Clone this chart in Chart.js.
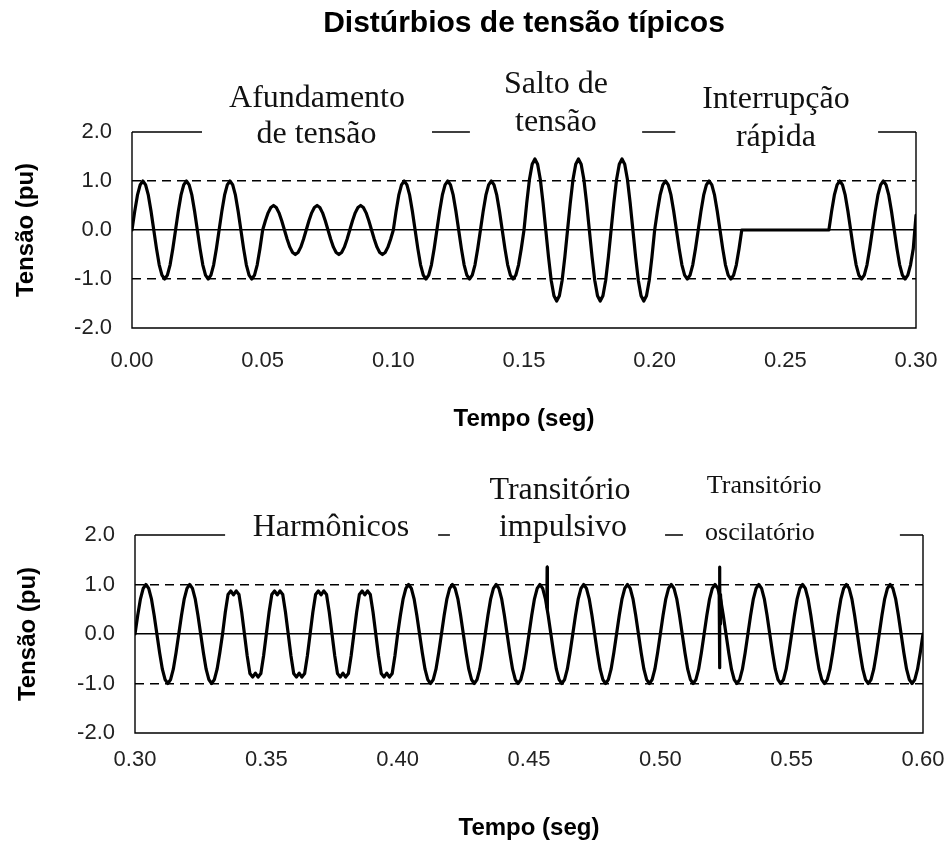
<!DOCTYPE html>
<html><head><meta charset="utf-8">
<script src="https://cdn.jsdelivr.net/npm/chart.js@4.4.1/dist/chart.umd.min.js"></script>
<style>
html,body{margin:0;padding:0;background:#fff;}
#wrap{position:relative;width:949px;height:843px;background:#fff;}
#c1{position:absolute;left:0;top:0;}
#c2{position:absolute;left:0;top:440px;}
</style></head><body>
<div id="wrap"><canvas id="c1" width="949" height="440"></canvas><canvas id="c2" width="949" height="403"></canvas></div>
<script>
// ---------- DATA ----------
const SAMPLE_STEP = 1 / 960;           // s between samples (16 per 60 Hz cycle)
const topStart = 0.00;
const bottomStart = 0.30;

// Upper panel: normal, sag (0.5 pu), normal, swell (1.45 pu), normal, interruption, normal
const topVoltage = [
 0,.38,.71,.92,1,.92,.71,.38,0,-.38,-.71,-.92,-1,-.92,-.71,-.38,
 0,.38,.71,.92,1,.92,.71,.38,0,-.38,-.71,-.92,-1,-.92,-.71,-.38,
 0,.38,.71,.92,1,.92,.71,.38,0,-.38,-.71,-.92,-1,-.92,-.71,-.38,
 0,.19,.35,.46,.5,.46,.35,.19,0,-.19,-.35,-.46,-.5,-.46,-.35,-.19,
 0,.19,.35,.46,.5,.46,.35,.19,0,-.19,-.35,-.46,-.5,-.46,-.35,-.19,
 0,.19,.35,.46,.5,.46,.35,.19,0,-.19,-.35,-.46,-.5,-.46,-.35,-.19,
 0,.38,.71,.92,1,.92,.71,.38,0,-.38,-.71,-.92,-1,-.92,-.71,-.38,
 0,.38,.71,.92,1,.92,.71,.38,0,-.38,-.71,-.92,-1,-.92,-.71,-.38,
 0,.38,.71,.92,1,.92,.71,.38,0,-.38,-.71,-.92,-1,-.92,-.71,-.38,
 0,.55,1.03,1.34,1.45,1.34,1.03,.55,0,-.55,-1.03,-1.34,-1.45,-1.34,-1.03,-.55,
 0,.55,1.03,1.34,1.45,1.34,1.03,.55,0,-.55,-1.03,-1.34,-1.45,-1.34,-1.03,-.55,
 0,.55,1.03,1.34,1.45,1.34,1.03,.55,0,-.55,-1.03,-1.34,-1.45,-1.34,-1.03,-.55,
 0,.38,.71,.92,1,.92,.71,.38,0,-.38,-.71,-.92,-1,-.92,-.71,-.38,
 0,.38,.71,.92,1,.92,.71,.38,0,-.38,-.71,-.92,-1,-.92,-.71,-.38,
 0,0,0,0,0,0,0,0,0,0,0,0,0,0,0,0,
 0,0,0,0,0,0,0,0,0,0,0,0,0,0,0,0,
 0,.38,.71,.92,1,.92,.71,.38,0,-.38,-.71,-.92,-1,-.92,-.71,-.38,
 0,.38,.71,.92,1,.92,.71,.38,0,-.38,-.71,-.92,-1,-.92,-.71,-.38,
 .3
];

// Lower panel: normal, harmonics (flattened tops), normal
const bottomVoltage = [
 0,.38,.71,.92,1,.92,.71,.38,0,-.38,-.71,-.92,-1,-.92,-.71,-.38,
 0,.38,.71,.92,1,.92,.71,.38,0,-.38,-.71,-.92,-1,-.92,-.71,-.38,
 0,.44,.8,.87,.79,.87,.8,.44,0,-.44,-.8,-.87,-.79,-.87,-.8,-.44,
 0,.44,.8,.87,.79,.87,.8,.44,0,-.44,-.8,-.87,-.79,-.87,-.8,-.44,
 0,.44,.8,.87,.79,.87,.8,.44,0,-.44,-.8,-.87,-.79,-.87,-.8,-.44,
 0,.44,.8,.87,.79,.87,.8,.44,0,-.44,-.8,-.87,-.79,-.87,-.8,-.44,
 0,.38,.71,.92,1,.92,.71,.38,0,-.38,-.71,-.92,-1,-.92,-.71,-.38,
 0,.38,.71,.92,1,.92,.71,.38,0,-.38,-.71,-.92,-1,-.92,-.71,-.38,
 0,.38,.71,.92,1,.92,.71,.38,0,-.38,-.71,-.92,-1,-.92,-.71,-.38,
 0,.38,.71,.92,1,.92,.71,.38,0,-.38,-.71,-.92,-1,-.92,-.71,-.38,
 0,.38,.71,.92,1,.92,.71,.38,0,-.38,-.71,-.92,-1,-.92,-.71,-.38,
 0,.38,.71,.92,1,.92,.71,.38,0,-.38,-.71,-.92,-1,-.92,-.71,-.38,
 0,.38,.71,.92,1,.92,.71,.38,0,-.38,-.71,-.92,-1,-.92,-.71,-.38,
 0,.38,.71,.92,1,.92,.71,.38,0,-.38,-.71,-.92,-1,-.92,-.71,-.38,
 0,.38,.71,.92,1,.92,.71,.38,0,-.38,-.71,-.92,-1,-.92,-.71,-.38,
 0,.38,.71,.92,1,.92,.71,.38,0,-.38,-.71,-.92,-1,-.92,-.71,-.38,
 0,.38,.71,.92,1,.92,.71,.38,0,-.38,-.71,-.92,-1,-.92,-.71,-.38,
 0,.38,.71,.92,1,.92,.71,.38,0,-.38,-.71,-.92,-1,-.92,-.71,-.38,
 0
];

// Transients (lower panel)
const impulseTimes   = [0.4568, 0.4569, 0.4570];
const impulseVoltage = [0.55, 1.35, 0.50];
const oscTimes   = [0.5224, 0.5225, 0.5226, 0.5227, 0.5228, 0.5229, 0.5231];
const oscVoltage = [0.85, 1.35, -0.68, 1.00, 0.20, 0.80, 0.62];

// Axis ticks
const topTimeTicks    = [0, 0.05, 0.10, 0.15, 0.20, 0.25, 0.30];
const bottomTimeTicks = [0.30, 0.35, 0.40, 0.45, 0.50, 0.55, 0.60];
const voltageTicks    = [-2, -1, 0, 1, 2];
const referenceLevels = [-1, 0, 1];

// Labels
const topLabels = ['Afundamento', 'de tensão', 'Salto de', 'tensão', 'Interrupção', 'rápida'];
const bottomLabels = ['Harmônicos', 'Transitório', 'impulsivo', 'Transitório', 'oscilatório'];

// ---------- LAYOUT / STYLE ----------
const SANS = "'Liberation Sans', Arial, sans-serif";
const SERIF = "'Liberation Serif', 'Times New Roman', serif";

const topLabelPos = [
  {t:0.0708, v:2.52, size:32}, {t:0.0706, v:1.77, size:32},
  {t:0.1622, v:2.79, size:32}, {t:0.1622, v:2.03, size:32},
  {t:0.2464, v:2.48, size:32}, {t:0.2464, v:1.72, size:32}
];
const bottomLabelPos = [
  {t:0.3746, v:1.97, size:32},
  {t:0.4618, v:2.73, size:32}, {t:0.4629, v:1.98, size:32},
  {t:0.5395, v:2.84, size:26}, {t:0.5379, v:1.90, size:26}
];
const topBorderSegments    = [[0, 0.0268], [0.1148, 0.1293], [0.1952, 0.2079], [0.2855, 0.30]];
const bottomBorderSegments = [[0.30, 0.3343], [0.4154, 0.4199], [0.5018, 0.5086], [0.5912, 0.60]];

const framePlugin = {
  id: 'frame',
  afterDraw(chart, args, opts) {
    const {ctx, chartArea: {left, right, top, bottom}, scales: {x, y}} = chart;
    ctx.save();
    ctx.strokeStyle = '#000';
    ctx.lineWidth = 1.4;
    ctx.beginPath();
    ctx.moveTo(left, top); ctx.lineTo(left, bottom); ctx.lineTo(right, bottom); ctx.lineTo(right, top);
    opts.segments.forEach(([a, b]) => {
      ctx.moveTo(x.getPixelForValue(a), top);
      ctx.lineTo(x.getPixelForValue(b), top);
    });
    ctx.stroke();
    ctx.fillStyle = '#111';
    ctx.textAlign = 'center';
    ctx.textBaseline = 'alphabetic';
    opts.texts.forEach((txt, i) => {
      const p = opts.positions[i];
      ctx.font = p.size + 'px ' + SERIF;
      ctx.fillText(txt, x.getPixelForValue(p.t), y.getPixelForValue(p.v));
    });
    ctx.restore();
  }
};

function waveDataset(start, values) {
  return {
    data: values.map((v, i) => ({x: start + i * SAMPLE_STEP, y: v})),
    borderColor: '#000', borderWidth: 3.2, pointRadius: 0, tension: 0,
    borderJoinStyle: 'round', borderCapStyle: 'round', fill: false
  };
}
function pairDataset(times, values) {
  return {
    data: times.map((t, i) => ({x: t, y: values[i]})),
    borderColor: '#000', borderWidth: 3.2, pointRadius: 0, tension: 0,
    borderJoinStyle: 'round', borderCapStyle: 'round', fill: false
  };
}

function makeScales(c) {
  return {
    x: {
      type: 'linear', min: c.xTicks[0], max: c.xTicks[c.xTicks.length - 1],
      afterFit(s) { s.height = c.xAxisHeight; s.paddingLeft = 0; s.paddingRight = 0; },
      afterBuildTicks(s) { s.ticks = c.xTicks.map(v => ({value: v})); },
      grid: {display: false, drawTicks: false},
      border: {display: false},
      ticks: {padding: c.xTickPad, autoSkip: false, maxRotation: 0, color: '#222',
              font: {family: SANS, size: 22}, callback: v => Number(v).toFixed(2)},
      title: {display: true, text: 'Tempo (seg)', color: '#000',
              font: {family: SANS, size: 24, weight: 'bold'}, padding: {top: 0, bottom: c.xTitlePad}}
    },
    y: {
      type: 'linear', min: -2, max: 2,
      afterFit(s) { s.width = c.yAxisWidth; s.paddingTop = 0; s.paddingBottom = 0; },
      afterBuildTicks(s) { s.ticks = voltageTicks.map(v => ({value: v})); },
      grid: {drawTicks: false, lineWidth: 1.4,
             color: ctx => (ctx.tick && referenceLevels.includes(ctx.tick.value)) ? '#000' : 'rgba(0,0,0,0)'},
      border: {display: false,
               dash: ctx => (ctx.tick && Math.abs(ctx.tick.value) === 1) ? [9, 6] : []},
      ticks: {padding: 20, color: '#222', font: {family: SANS, size: 22},
              callback: v => Number(v).toFixed(1)},
      title: {display: true, text: 'Tensão (pu)', color: '#000',
              font: {family: SANS, size: 24, weight: 'bold'}, padding: {top: c.yTitlePad, bottom: 0}}
    }
  };
}

const common = {
  responsive: false, animation: false, devicePixelRatio: 1,
  events: []
};

new Chart(document.getElementById('c1'), {
  type: 'line',
  data: {datasets: [waveDataset(topStart, topVoltage)]},
  options: Object.assign({}, common, {
    layout: {padding: {top: 0, left: 0, right: 33, bottom: 0}},
    scales: makeScales({xTicks: topTimeTicks, xAxisHeight: 112, xTickPad: 20, xTitlePad: 6, yAxisWidth: 132, yTitlePad: 11.6}),
    plugins: {
      legend: {display: false}, tooltip: {enabled: false},
      title: {display: true, text: 'Distúrbios de tensão típicos', fullSize: false, color: '#000',
              font: {family: SANS, size: 30, weight: 'bold'}, padding: {top: 6, bottom: 90}},
      frame: {segments: topBorderSegments, texts: topLabels, positions: topLabelPos}
    }
  }),
  plugins: [framePlugin]
});

new Chart(document.getElementById('c2'), {
  type: 'line',
  data: {datasets: [
    waveDataset(bottomStart, bottomVoltage),
    pairDataset(impulseTimes, impulseVoltage),
    pairDataset(oscTimes, oscVoltage)
  ]},
  options: Object.assign({}, common, {
    layout: {padding: {top: 95, left: 0, right: 26, bottom: 0}},
    scales: makeScales({xTicks: bottomTimeTicks, xAxisHeight: 110, xTickPad: 14, xTitlePad: 0, yAxisWidth: 135, yTitlePad: 13.9}),
    plugins: {
      legend: {display: false}, tooltip: {enabled: false}, title: {display: false},
      frame: {segments: bottomBorderSegments, texts: bottomLabels, positions: bottomLabelPos}
    }
  }),
  plugins: [framePlugin]
});
</script>
</body></html>
